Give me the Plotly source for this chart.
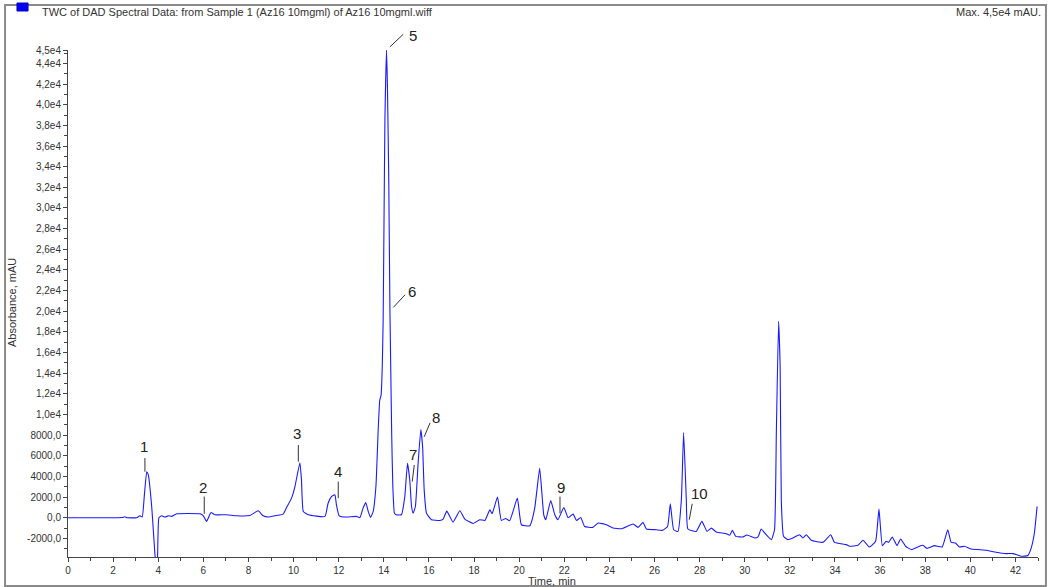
import plotly.graph_objects as go

# ---- data ----
time_min = [0.0, 1.0, 2.0, 2.4, 2.52, 2.62, 3.04, 3.19, 3.29, 3.38, 3.49, 3.56, 3.71, 3.81, 3.88, 3.93, 3.97,
            4.03, 4.15, 4.3, 4.45, 4.59, 4.82, 5.85, 6.0, 6.14, 6.34, 6.51, 7.03, 7.47, 8.06, 8.43, 8.65,
            8.87, 9.24, 9.54, 9.69, 9.91, 10.06, 10.28, 10.35, 10.43, 10.65, 11.39, 11.53, 11.68, 11.83,
            11.9, 12.02, 12.35, 12.79, 12.94, 13.08, 13.2, 13.31, 13.41, 13.53, 13.65, 13.75, 13.82, 13.88,
            13.93, 13.97, 14.01, 14.05, 14.12, 14.16, 14.22, 14.27, 14.31, 14.35, 14.4, 14.47, 14.55, 14.78,
            14.93, 15.05, 15.15, 15.23, 15.3, 15.4, 15.52, 15.64, 15.72, 15.79, 15.89, 16.11, 16.48, 16.63,
            16.79, 17.07, 17.37, 17.59, 17.96, 18.25, 18.48, 18.7, 18.8, 19.04, 19.21, 19.4, 19.58, 19.92,
            20.1, 20.47, 20.69, 20.91, 21.09, 21.18, 21.4, 21.58, 21.72, 21.98, 22.17, 22.39, 22.54, 22.73,
            22.9, 23.27, 23.5, 23.87, 24.16, 24.53, 25.05, 25.27, 25.49, 25.64, 26.08, 26.35, 26.58, 26.7,
            26.85, 27.04, 27.19, 27.29, 27.41, 27.48, 27.85, 28.1, 28.33, 28.52, 28.74, 29.18, 29.33, 29.45,
            29.6, 29.92, 30.1, 30.44, 30.59, 30.73, 30.95, 31.18, 31.32, 31.4, 31.5, 31.57, 31.62, 31.72,
            31.91, 32.13, 32.43, 32.58, 32.73, 32.95, 33.47, 33.81, 33.98, 34.5, 34.65, 35.02, 35.24, 35.53,
            35.8, 35.95, 36.1, 36.27, 36.38, 36.54, 36.75, 36.91, 37.13, 37.38, 37.67, 37.9, 38.07, 38.41,
            38.75, 39.0, 39.15, 39.34, 39.52, 39.74, 40.04, 40.7, 41.14, 41.59, 41.89, 42.25, 42.55, 42.7,
            42.84, 42.96]
absorbance = [0, 0, 0, 20, 100, 0, 0, 190, 70, 2050, 4460, 4150, 1090, -2120, -4200, -4500, -3800,
              0, 190, 70, 190, 130, 385, 385, 190, -350, 510, 290, 290, 190, 220, 675, 190,
              70, 220, 350, 1000, 1900, 3020, 5330, 3660, 610, 290, 130, 1410, 2050, 2220,
              1250, 190, 70, 130, 0, 935, 1480, 610, 30, 610, 3020, 8480, 11380, 11900,
              14500, 19090, 29050, 38680, 45280, 41900, 32580, 20370, 14000, 8000, 3000, 450, 290, 290,
              2050, 5270, 3660, 1090, 450, 1090, 5270, 8550, 6870, 2700, 450, -190, -260, -130,
              640, -420, 675, -130, -550, -190, -260, 770, 385, 2000, -260, -70, -290, 1900,
              -675, -770, 935, 4790, 290, -190, 1670, 290, -190, 1000, 0, 355, -260, 30,
              -840, -930, -510, -675, -1000, -1060, -610, -930, -450, -1090, -1160, -1220, -840, 1350,
              -1160, -1320, 1735, 8260, 1735, -1090, -1320, -350, -1320, -1000, -1380, -1540, -1700, -1220,
              -1800, -1860, -1670, -1960, -1860, -1090, -1640, -2120, -1160, 8160, 19020, 14590, 1735, -1800,
              -2120, -1960, -1640, -1960, -1640, -2180, -2380, -1640, -2380, -2600, -2760, -2670, -2180, -2830,
              -2280, 840, -2700, -2280, -2380, -1860, -2700, -2050, -2760, -3080, -2830, -2670, -2960, -2700,
              -2830, -1160, -2380, -2440, -2830, -2760, -3020, -3150, -3340, -3470, -3470, -3730, -3660, -2920,
              -1475, 1090]

# y tick labels
y_tick_vals = [-2000, 0, 2000, 4000, 6000, 8000, 10000, 12000, 14000, 16000, 18000, 20000, 22000, 24000,
               26000, 28000, 30000, 32000, 34000, 36000, 38000, 40000, 42000, 44000, 45300]
y_tick_text = ["-2000,0", "0,0", "2000,0", "4000,0", "6000,0", "8000,0", "1,0e4", "1,2e4", "1,4e4", "1,6e4",
               "1,8e4", "2,0e4", "2,2e4", "2,4e4", "2,6e4", "2,8e4", "3,0e4", "3,2e4", "3,4e4", "3,6e4",
               "3,8e4", "4,0e4", "4,2e4", "4,4e4", "4,5e4"]
x_tick_vals = list(range(0, 43, 2))
x_tick_text = [str(v) for v in x_tick_vals]
Y_MIN, Y_MAX = -3800, 45300
X_MIN, X_MAX = 0, 43.0

# peak labels: text, text position (t, v), leader line (t0, v0, t1, v1)
peak_labels = ["1", "2", "3", "4", "5", "6", "7", "8", "9", "10"]
label_t = [3.38, 6.0, 10.16, 11.98, 15.31, 15.24, 15.28, 16.3, 21.84, 27.98]
label_v = [6870, 2960, 8165, 4460, 46720, 21910, 6170, 9710, 2960, 2380]
leader_t0 = [3.41, 6.04, 10.21, 11.98, 14.27, 14.42, 15.26, 15.79, 21.81, 27.54]
leader_v0 = [4460, 385, 5430, 1900, 45600, 20370, 3500, 7840, 450, -190]
leader_t1 = [3.41, 6.04, 10.21, 11.98, 14.86, 14.94, 15.35, 16.05, 21.81, 27.67]
leader_v1 = [5780, 2050, 7040, 3500, 46820, 21590, 5110, 9190, 2050, 1350]

header = "TWC of DAD Spectral Data: from Sample 1 (Az16 10mgml) of Az16 10mgml.wiff"
max_text = "Max. 4,5e4 mAU."
FONT = "Arial, Liberation Sans, sans-serif"
BLUE = "#1a1aff"


def py(v):
    """data value -> paper y (labels may sit above the plot top)"""
    return (v - Y_MIN) / (Y_MAX - Y_MIN)


def px(t):
    return (t - X_MIN) / (X_MAX - X_MIN)


fig = go.Figure()
fig.add_trace(go.Scatter(x=time_min, y=absorbance, mode="lines",
                         line=dict(color=BLUE, width=1.1, shape="spline", smoothing=0.4),
                         showlegend=False, hoverinfo="x+y"))
# small marker on the y axis
fig.add_trace(go.Scatter(x=[-0.1], y=[2310], mode="markers", cliponaxis=False,
                         marker=dict(symbol="triangle-right", size=8, color=BLUE),
                         showlegend=False, hoverinfo="skip"))

shapes = []
for t0, v0, t1, v1 in zip(leader_t0, leader_v0, leader_t1, leader_v1):
    shapes.append(dict(type="line", xref="paper", yref="paper", x0=px(t0), y0=py(v0), x1=px(t1), y1=py(v1),
                       line=dict(color="#333333", width=1)))
# outer frame
shapes.append(dict(type="rect", xref="paper", yref="paper", x0=-0.0649, x1=1.0082, y0=-0.0572, y1=1.0888,
                   line=dict(color="#8a8a8a", width=2), fillcolor="rgba(0,0,0,0)", layer="below"))
# legend square
shapes.append(dict(type="rect", xref="paper", yref="paper", x0=-0.0526, x1=-0.0412, y0=1.0769, y1=1.0927,
                   line=dict(color="#0000cc", width=1), fillcolor="#0000ee"))

annotations = []
for lab, t, v in zip(peak_labels, label_t, label_v):
    annotations.append(dict(x=px(t), y=py(v), xref="paper", yref="paper", text=lab, showarrow=False,
                            font=dict(family=FONT, size=15, color="#222222"),
                            xanchor="center", yanchor="middle"))
annotations.append(dict(x=(40 - 68) / 970, y=(557 - 12) / 507, xref="paper", yref="paper", text=header,
                        showarrow=False, xanchor="left", yanchor="middle",
                        font=dict(family=FONT, size=11, color="#333333")))
annotations.append(dict(x=(1043 - 68) / 970, y=(557 - 12) / 507, xref="paper", yref="paper", text=max_text,
                        showarrow=False, xanchor="right", yanchor="middle",
                        font=dict(family=FONT, size=11, color="#333333")))
annotations.append(dict(x=(12 - 68) / 970, y=(557 - 303) / 507, xref="paper", yref="paper",
                        text="Absorbance, mAU", textangle=-90, showarrow=False,
                        xanchor="center", yanchor="middle",
                        font=dict(family=FONT, size=11, color="#333333")))
annotations.append(dict(x=(552 - 68) / 970, y=(557 - 581) / 507, xref="paper", yref="paper",
                        text="Time, min", showarrow=False, xanchor="center", yanchor="middle",
                        font=dict(family=FONT, size=11, color="#333333")))

fig.update_layout(
    width=1049, height=587,
    margin=dict(l=68, r=11, t=50, b=30),
    paper_bgcolor="white", plot_bgcolor="white",
    shapes=shapes, annotations=annotations,
    font=dict(family=FONT, size=10, color="#333333"),
    xaxis=dict(range=[X_MIN, X_MAX], tickmode="array", tickvals=x_tick_vals, ticktext=x_tick_text,
               showgrid=False, zeroline=False, showline=True, linecolor="#444444", linewidth=1,
               ticks="outside", ticklen=4, tickcolor="#444444", tickfont=dict(size=10, color="#333333"),
               minor=dict(dtick=1, tick0=0, ticks="outside", ticklen=3, tickcolor="#444444", showgrid=False)),
    yaxis=dict(range=[Y_MIN, Y_MAX], tickmode="array", tickvals=y_tick_vals, ticktext=y_tick_text,
               showgrid=False, zeroline=False, showline=True, linecolor="#444444", linewidth=1,
               ticks="outside", ticklen=4, tickcolor="#444444", tickfont=dict(size=10, color="#333333"),
               minor=dict(dtick=1000, tick0=0, ticks="outside", ticklen=3, tickcolor="#444444", showgrid=False)),
)

fig.write_html("out.html", config={"displayModeBar": False},
               post_script="document.body.style.margin='0';document.body.style.overflow='hidden';")
